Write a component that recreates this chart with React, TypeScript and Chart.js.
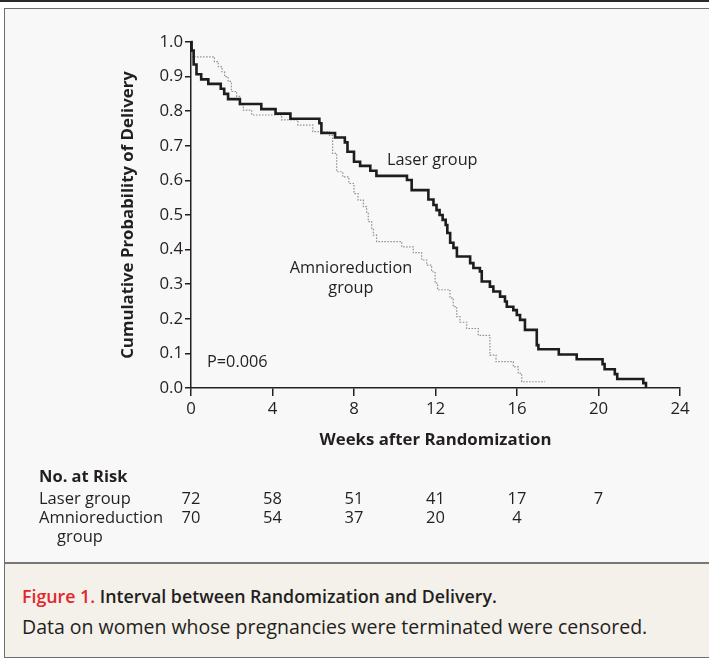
import React, { useEffect, useRef } from "react";
import { Chart, registerables } from "chart.js";

Chart.register(...registerables);

// Kaplan-Meier steps: week at which the step occurs, cumulative probability after it
const laserWeeks = [0, 0.03, 0.13, 0.27, 0.5, 0.85, 1.46, 1.63, 1.82, 2.4, 3.45, 4.15, 4.88, 6.3, 6.4, 7.07, 7.55, 7.68, 8.0, 8.3, 8.8, 9.1, 10.6, 10.83, 11.65, 11.9, 12.05, 12.2, 12.35, 12.5, 12.58, 12.72, 12.88, 13.05, 13.7, 13.86, 14.18, 14.27, 14.67, 14.84, 15.17, 15.41, 15.5, 15.82, 15.99, 16.15, 16.39, 16.97, 17.05, 18.05, 18.93, 20.2, 20.3, 20.8, 20.92, 22.2, 22.33];
const laserProb = [1.0, 0.975, 0.935, 0.907, 0.892, 0.879, 0.865, 0.85, 0.835, 0.821, 0.806, 0.793, 0.778, 0.765, 0.737, 0.724, 0.71, 0.683, 0.654, 0.642, 0.628, 0.613, 0.601, 0.572, 0.545, 0.529, 0.514, 0.5, 0.486, 0.471, 0.448, 0.42, 0.405, 0.38, 0.361, 0.347, 0.337, 0.308, 0.293, 0.279, 0.264, 0.25, 0.235, 0.225, 0.211, 0.197, 0.168, 0.124, 0.112, 0.097, 0.083, 0.069, 0.054, 0.04, 0.026, 0.014, 0.0];

const amnioWeeks = [0, 0.05, 1.15, 1.34, 1.52, 1.65, 1.82, 1.98, 2.24, 2.4, 2.57, 2.98, 4.45, 5.25, 5.98, 6.8, 6.95, 7.15, 7.45, 7.75, 8.0, 8.2, 8.46, 8.62, 8.7, 8.87, 8.95, 9.11, 10.34, 10.91, 11.32, 11.57, 11.81, 11.98, 12.1, 12.71, 12.87, 13.04, 13.2, 13.53, 14.1, 14.67, 14.97, 15.82, 16.06, 16.23, 17.38];
const amnioProb = [1.0, 0.957, 0.943, 0.929, 0.914, 0.9, 0.886, 0.857, 0.843, 0.818, 0.803, 0.789, 0.775, 0.76, 0.741, 0.73, 0.678, 0.625, 0.61, 0.591, 0.562, 0.543, 0.524, 0.505, 0.481, 0.462, 0.442, 0.423, 0.408, 0.391, 0.37, 0.355, 0.336, 0.303, 0.284, 0.26, 0.235, 0.206, 0.19, 0.172, 0.152, 0.095, 0.076, 0.061, 0.042, 0.018, 0.018];

// Number at risk table
const riskWeeks = [0, 4, 8, 12, 16, 20];
const laserRisk = [72, 58, 51, 41, 17, 7];
const amnioRisk = [70, 54, 37, 20, 4];

const FONT = "'Open Sans', 'Noto Sans', sans-serif";
const INK = "#231f20";

const overlayPlugin = {
  id: "overlay",
  afterDatasetsDraw(chart: any) {
    const { ctx, scales } = chart;
    const xs = scales.x;
    const ys = scales.y;
    const px = (v: number) => xs.getPixelForValue(v);
    const py = (v: number) => ys.getPixelForValue(v);
    ctx.save();
    ctx.fillStyle = INK;
    ctx.textBaseline = "middle";
    ctx.font = `16.3px ${FONT}`;
    ctx.textAlign = "left";
    ctx.fillText("Laser group", px(9.62), py(0.659));
    ctx.fillText("P=0.006", px(0.785), py(0.075));
    ctx.textAlign = "center";
    ctx.fillText("Amnioreduction", px(7.85), py(0.347));
    ctx.fillText("group", px(7.85), py(0.289));

    // risk table
    const left = 39;
    ctx.textAlign = "left";
    ctx.font = `bold 16.5px ${FONT}`;
    ctx.fillText("No. at Risk", left, 477);
    ctx.font = `16.5px ${FONT}`;
    ctx.fillText("Laser group", left, 499);
    ctx.fillText("Amnioreduction", left, 518);
    ctx.fillText("group", left + 18, 537);
    ctx.textAlign = "center";
    laserRisk.forEach((n, i) => ctx.fillText(String(n), px(riskWeeks[i]), 499));
    amnioRisk.forEach((n, i) => ctx.fillText(String(n), px(riskWeeks[i]), 518));
    ctx.restore();
  },
};

export default function App() {
  const ref = useRef<HTMLCanvasElement>(null);
  useEffect(() => {
    if (!ref.current) return;
    const laserData = laserWeeks.map((w, i) => ({ x: w, y: laserProb[i] }));
    const amnioData = amnioWeeks.map((w, i) => ({ x: w, y: amnioProb[i] }));
    const tickFont = { family: FONT, size: 16.8 };
    const titleFont = { family: FONT, size: 16.8, weight: "bold" as const };
    const chart = new Chart(ref.current, {
      type: "line",
      data: {
        datasets: [
          {
            label: "Laser group",
            data: laserData,
            stepped: "before",
            borderColor: "#1e1c1d",
            borderWidth: 2.6,
            pointRadius: 0,
            fill: false,
            clip: 6,
          },
          {
            label: "Amnioreduction group",
            data: amnioData,
            stepped: "before",
            borderColor: "#8e8e8e",
            borderWidth: 1.2,
            borderDash: [1.5, 1.5],
            pointRadius: 0,
            fill: false,
            clip: 6,
          },
        ],
      },
      plugins: [overlayPlugin],
      options: {
        animation: false,
        responsive: false,
        maintainAspectRatio: false,
        layout: { padding: { left: 0, top: 42, right: 29, bottom: 0 } },
        plugins: { legend: { display: false }, tooltip: { enabled: false } },
        scales: {
          x: {
            type: "linear",
            min: 0,
            max: 24,
            ticks: { stepSize: 4, font: tickFont, color: INK, padding: 3, maxRotation: 0, autoSkip: false },
            grid: { drawOnChartArea: false, drawTicks: true, tickLength: 8, color: INK, lineWidth: 1.5 },
            border: { display: true, color: INK, width: 1.5 },
            title: { display: true, text: "Weeks after Randomization", font: titleFont, color: INK, padding: { top: 0, bottom: 110 } },
            afterFit: (s: any) => {
              s.height = 172;
            },
          },
          y: {
            type: "linear",
            min: 0,
            max: 1,
            ticks: { stepSize: 0.1, font: tickFont, color: INK, padding: 2, callback: (v: any) => Number(v).toFixed(1) },
            grid: { drawOnChartArea: false, drawTicks: true, tickLength: 6, color: INK, lineWidth: 1.5 },
            border: { display: true, color: INK, width: 1.5 },
            title: { display: true, text: "Cumulative Probability of Delivery", font: titleFont, color: INK, padding: { top: 118, bottom: 0 } },
            afterFit: (s: any) => {
              s.width = 191;
            },
          },
        },
      },
    });
    return () => chart.destroy();
  }, []);

  return (
    <div style={{ position: "absolute", left: 0, top: 0, width: 709, height: 661, overflow: "hidden", background: "#fff", fontFamily: FONT, color: INK }}>
      <div style={{ position: "absolute", left: 0, top: 0, width: 709, height: 2, background: "#2a2a2a" }} />
      <div style={{ position: "absolute", left: 4, top: 8, width: 730, height: 650, boxSizing: "border-box", border: "1.5px solid #6e6e6e", background: "#f8f8f8" }} />
      <div style={{ position: "absolute", left: 4, top: 562, width: 730, height: 96, boxSizing: "border-box", borderTop: "2px solid #777", borderLeft: "1.5px solid #6e6e6e", borderBottom: "1.5px solid #6e6e6e", background: "#f4f0ea" }} />
      <canvas ref={ref} width={709} height={560} style={{ position: "absolute", left: 0, top: 0, width: 709, height: 560 }} />
      <div style={{ position: "absolute", left: 22, top: 584, fontSize: 17.8, lineHeight: "24px", whiteSpace: "nowrap" }}>
        <span style={{ color: "#e2262c", fontWeight: 600 }}>Figure 1.</span>{" "}
        <span style={{ fontWeight: 600 }}>Interval between Randomization and Delivery.</span>
      </div>
      <div style={{ position: "absolute", left: 22, top: 613, fontSize: 19.5, lineHeight: "28px", whiteSpace: "nowrap" }}>
        Data on women whose pregnancies were terminated were censored.
      </div>
    </div>
  );
}
